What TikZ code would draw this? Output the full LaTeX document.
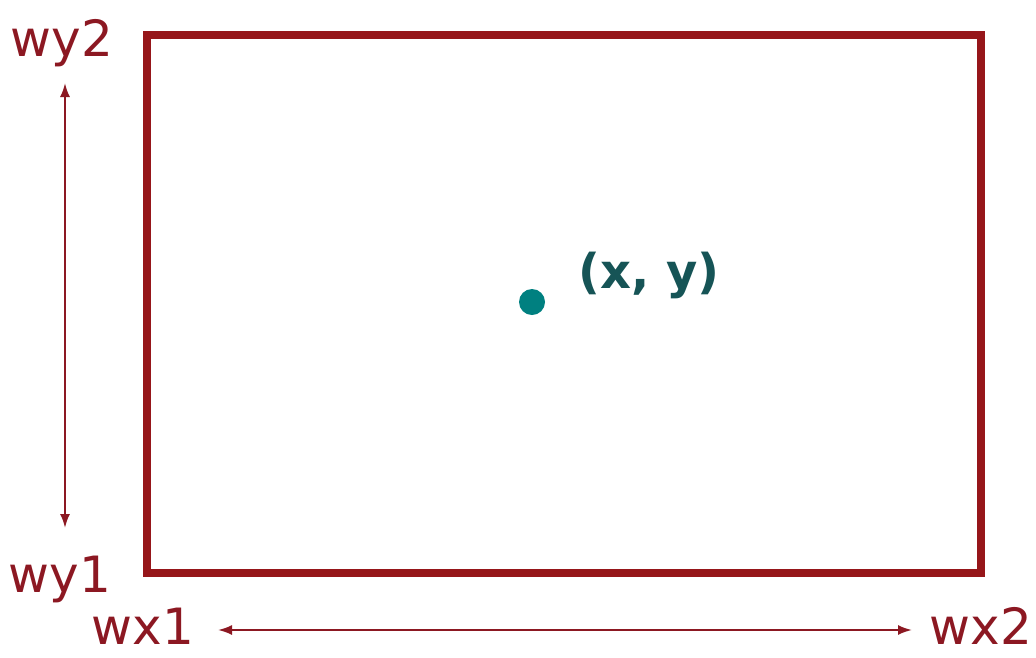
\documentclass[tikz,border=0pt]{standalone}
\usepackage{fontspec}
\setmainfont{DejaVu Sans}
\usetikzlibrary{positioning,arrows.meta}
\definecolor{winred}{RGB}{150,22,26}
\definecolor{labred}{RGB}{140,24,34}
\definecolor{ptteal}{RGB}{0,128,128}
\definecolor{ptdark}{RGB}{22,84,86}

\begin{document}
\begin{tikzpicture}[x=1pt,y=-1pt,>={Latex[length=14pt,width=10pt]},
      lab/.style={text=labred,inner sep=0pt,anchor=base,font=\fontsize{50}{60}\selectfont},
      dim/.style={<->,draw=labred,line width=2pt}]
    \useasboundingbox (0,0) rectangle (1036,657);
    % window
    \node[draw=winred,line width=8pt,minimum width=834pt,minimum height=538pt,inner sep=0pt] (win) at (564,304) {};
    % point
    \node[circle,fill=ptteal,minimum size=26pt,inner sep=0pt] (pt) at (532,302) {};
    \node[anchor=base west,inner sep=0pt,text=ptdark,font=\fontsize{48}{58}\selectfont\bfseries] (ptlab) at (578,288) {(x, y)};
    % limits
    \node[lab] (wy2) at (62,56) {wy2};
    \node[lab] (wy1) at (60,592) {wy1};
    \node[lab] (wx1) at (143,644) {wx1};
    \node[lab] (wx2) at (981,644) {wx2};
    \coordinate (ytop) at (65,83);
    \coordinate (ybot) at (65,528);
    \coordinate (xlft) at (218,630);
    \coordinate (xrgt) at (912,630);
    \draw[dim] (ybot) -- (ytop);
    \draw[dim] (xlft) -- (xrgt);
  \end{tikzpicture}
\end{document}
